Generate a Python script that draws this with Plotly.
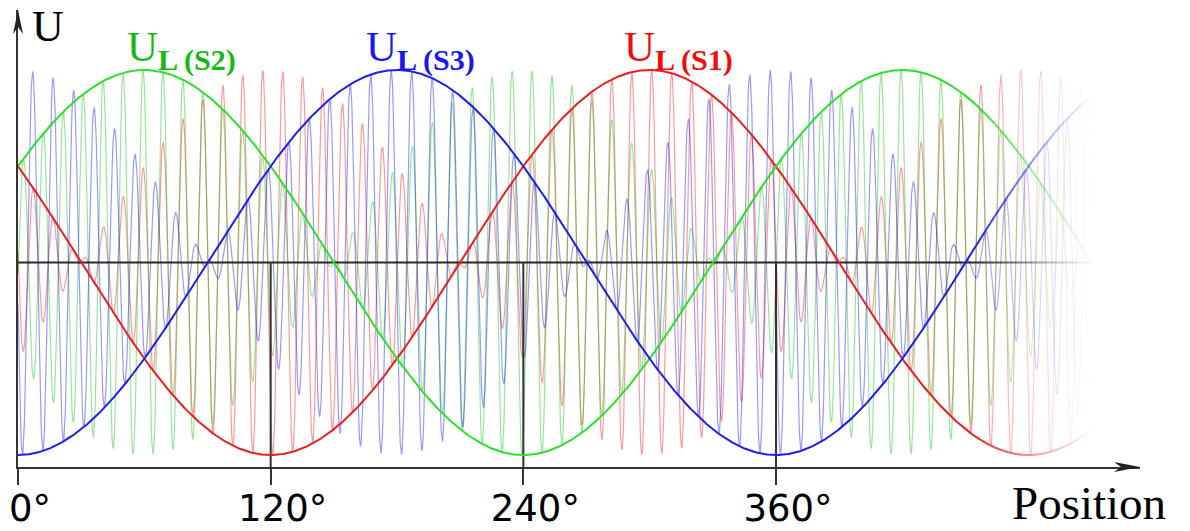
import numpy as np
import plotly.graph_objects as go

# ---------------- values ----------------
SERIES = ["S1", "S2", "S3"]
ENV_PHASE_DEG = [150.0, 30.0, -90.0]          # envelope U_L(Sx) = sin(theta + phase)
ENV_AMPLITUDE = [1.0, 1.0, 1.0]
CARRIER_CYCLES_PER_TURN = [38.0, 38.0, 37.0]   # carrier oscillations per 360 deg
CARRIER_PHASE_DEG = [7.3, 2.55, 2.1]           # position of first carrier maximum
TICK_DEG = [0, 120, 240, 360]
TICK_TEXT = ["0°", "120°", "240°", "360°"]
LABEL_X_DEG = [287.0, 51.0, 164.5]
THETA_END = 516.0

# ---------------- styles ----------------
THICK_COLORS = ["rgb(235,30,30)", "rgb(40,225,40)", "rgb(30,30,235)"]
THIN_RGB = ["255,0,0", "0,190,0", "0,0,255"]
LABEL_COLORS = ["rgb(240,10,10)", "rgb(20,185,20)", "rgb(25,25,235)"]
AXIS_COLOR = "#333333"

# ---------------- geometry (page pixels; the page body has an 8 px margin) ----------------
OFF = 8
W, H = 1190 - OFF, 531 - OFF
PAGE_X0, PAGE_X360 = 18, 776       # 0 deg and 360 deg
PAGE_RIGHT = 1140                  # end of x axis (arrow tip)
PAGE_TOP = 10                      # tip of y axis
PAGE_AXIS_Y = 467                  # x axis line
PAGE_ZERO_Y, PX_PER_UNIT = 262.5, 192.5

ML = PAGE_X0 - OFF
MR = 1190 - PAGE_RIGHT
MT = PAGE_TOP - OFF
MB = 531 - PAGE_AXIS_Y
PX_PER_DEG = (PAGE_X360 - PAGE_X0) / 360.0
X_MAX = (PAGE_RIGHT - PAGE_X0) / PX_PER_DEG
Y_MAX = (PAGE_ZERO_Y - PAGE_TOP) / PX_PER_UNIT
Y_MIN = (PAGE_ZERO_Y - PAGE_AXIS_Y) / PX_PER_UNIT
PLOT_H = PAGE_AXIS_Y - PAGE_TOP

FADE_START, FADE_END, NSEG = 455.0, 512.0, 26

theta = np.arange(0.0, THETA_END + 1e-9, 0.2)

fig = go.Figure()


def add_faded(x, y, rgb, alpha, width):
    n = len(x)
    s = int(np.searchsorted(x, FADE_START))
    fig.add_trace(go.Scatter(x=x[:s + 1], y=y[:s + 1], mode="lines",
                             line=dict(color=f"rgba({rgb},{alpha})", width=width),
                             hoverinfo="skip"))
    edges = np.linspace(FADE_START, FADE_END, NSEG + 1)
    for a, b in zip(edges[:-1], edges[1:]):
        i0 = int(np.searchsorted(x, a))
        i1 = min(int(np.searchsorted(x, b)), n - 1)
        if i0 >= n - 1:
            break
        f = 1.0 - (0.5 * (a + b) - FADE_START) / (FADE_END - FADE_START)
        f = max(f, 0.0) ** 1.2
        fig.add_trace(go.Scatter(x=x[i0:i1 + 1], y=y[i0:i1 + 1], mode="lines",
                                 line=dict(color=f"rgba({rgb},{alpha * f:.4f})", width=width),
                                 hoverinfo="skip"))


envelopes = []
for amp, ph in zip(ENV_AMPLITUDE, ENV_PHASE_DEG):
    envelopes.append(amp * np.sin(np.radians(theta + ph)))

# thin modulated carriers
for env, cyc, cph, rgb in zip(envelopes, CARRIER_CYCLES_PER_TURN, CARRIER_PHASE_DEG, THIN_RGB):
    carrier = np.cos(2 * np.pi * cyc * (theta - cph) / 360.0)
    add_faded(theta, env * carrier, rgb, 0.4, 1.2)

# midline
add_faded(theta, np.zeros_like(theta), "40,40,40", 1.0, 2)

# vertical guide lines at ticks (from midline to the axis)
for t in TICK_DEG[1:]:
    fig.add_trace(go.Scatter(x=[t, t], y=[0, Y_MIN], mode="lines",
                             line=dict(color=AXIS_COLOR, width=2), hoverinfo="skip"))

# thick envelopes
for env, col in zip(envelopes, THICK_COLORS):
    rgb = col[4:-1]
    add_faded(theta, env, rgb, 1.0, 2)

# series labels
for name, lx, col in zip(SERIES, LABEL_X_DEG, LABEL_COLORS):
    fig.add_annotation(x=lx, y=1.103, xref="x", yref="y", xanchor="left", yanchor="middle",
                       text=f"U<sub><b>L ({name})</b></sub>", showarrow=False,
                       font=dict(family="Liberation Serif", size=43, color=col))

# axis labels
fig.add_annotation(x=5.5, y=1.225, xref="x", yref="y", xanchor="left", yanchor="middle",
                   text="U", showarrow=False,
                   font=dict(family="Liberation Serif", size=44, color="black"))
fig.add_annotation(x=(1010 - PAGE_X0) / (PAGE_RIGHT - PAGE_X0), y=(PAGE_AXIS_Y - 503) / PLOT_H,
                   xref="paper", yref="paper", xanchor="left", yanchor="middle",
                   text="Position", showarrow=False,
                   font=dict(family="Liberation Serif", size=47, color="black"))

# arrow heads at axis ends
fig.add_shape(type="path", xref="paper", yref="paper", xsizemode="pixel", ysizemode="pixel",
              xanchor=1, yanchor=0, path="M0,0 L-26,5 L-19,0 L-26,-5 Z",
              fillcolor="#222222", line=dict(width=0))
fig.add_shape(type="path", xref="paper", yref="paper", xsizemode="pixel", ysizemode="pixel",
              xanchor=0, yanchor=1, path="M0,0 L5,-24 L0,-17 L-5,-24 Z",
              fillcolor="#222222", line=dict(width=0))

fig.update_layout(width=W, height=H, margin=dict(l=ML, r=MR, t=MT, b=MB, pad=0, autoexpand=False),
                  paper_bgcolor="white", plot_bgcolor="white",
                  showlegend=False, hovermode=False)
fig.update_xaxes(range=[0, X_MAX], showgrid=False, zeroline=False, automargin=False,
                 showline=True, linecolor=AXIS_COLOR, linewidth=2,
                 ticks="outside", ticklen=16, tickwidth=2, tickcolor=AXIS_COLOR,
                 tickvals=TICK_DEG, ticktext=TICK_TEXT,
                 tickfont=dict(family="DejaVu Sans", size=37, color="black"),
                 ticklabelstandoff=-8, ticklabelshift=12)
fig.update_yaxes(range=[Y_MIN, Y_MAX], showgrid=False, zeroline=False, automargin=False,
                 showline=True, linecolor=AXIS_COLOR, linewidth=2,
                 showticklabels=False, ticks="")

fig.write_html("out.html")
